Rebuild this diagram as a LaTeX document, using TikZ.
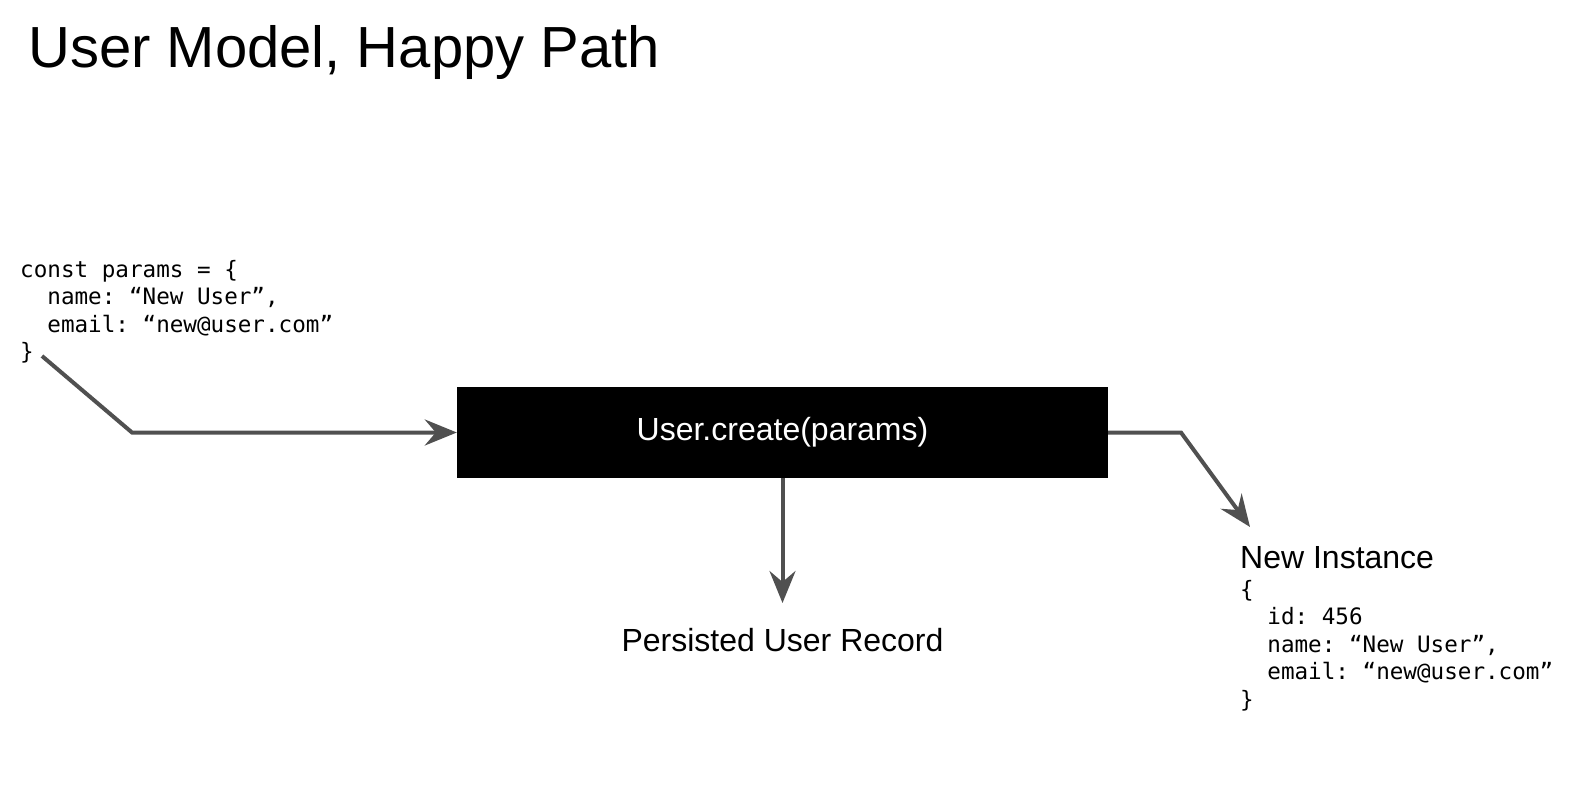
\documentclass[tikz,border=0pt]{standalone}
\usepackage{fontspec}
\setmainfont{Liberation Sans}
\setmonofont{DejaVu Sans Mono}
\usetikzlibrary{arrows.meta}
\definecolor{linegray}{HTML}{505050}
\def\thickness{4pt}
\tikzstyle{textlabel}=[inner sep=0pt, font=\fontsize{32}{38}\selectfont]
\tikzstyle{code}=[inner sep=0pt, align=left, anchor=north west, font=\ttfamily\fontsize{22.6}{27.5}\selectfont]
\tikzstyle{callbox}=[fill=black, minimum width=651pt, minimum height=91pt, text=white, font=\fontsize{32}{38}\selectfont]
\tikzstyle{flow}=[draw=linegray, line width=\thickness, -{Stealth[length=32pt, width=26pt, inset=11pt]}]

\begin{document}
\begin{tikzpicture}[x=1pt, y=-1pt]
\useasboundingbox (0,0) rectangle (1587,786);
\node [textlabel, anchor=base west, font=\fontsize{58}{66}\selectfont] (title) at (28,68) {User Model, Happy Path};
\node [code] (params) at (20,257.75) {\strut const params = \{\\
\ \ name: “New User”,\\
\ \ email: “new@user.com”\\
\}};
\node [callbox] (create) at (782.5,432.5) {User.create(params)};
\node [textlabel, anchor=base] (record) at (782.5,651) {Persisted User Record};
\node [textlabel, anchor=base west] (instance) at (1240,568) {New Instance};
\node [code] (fields) at (1240,578) {\strut\{\\
\ \ id: 456\\
\ \ name: “New User”,\\
\ \ email: “new@user.com”\\
\}};
\coordinate (params end) at (42,356);
\coordinate (params bend) at (132,432.5);
\coordinate (instance bend) at (1181,432.5);
\coordinate (instance tip) at (1250,527);
\draw [flow] (params end) -- (params bend) -- (create.west);
\draw [flow] (create.south) -- (782.5,603) coordinate (record tip);
\draw [flow] (create.east) -- (instance bend) -- (instance tip);
\end{tikzpicture}
\end{document}
